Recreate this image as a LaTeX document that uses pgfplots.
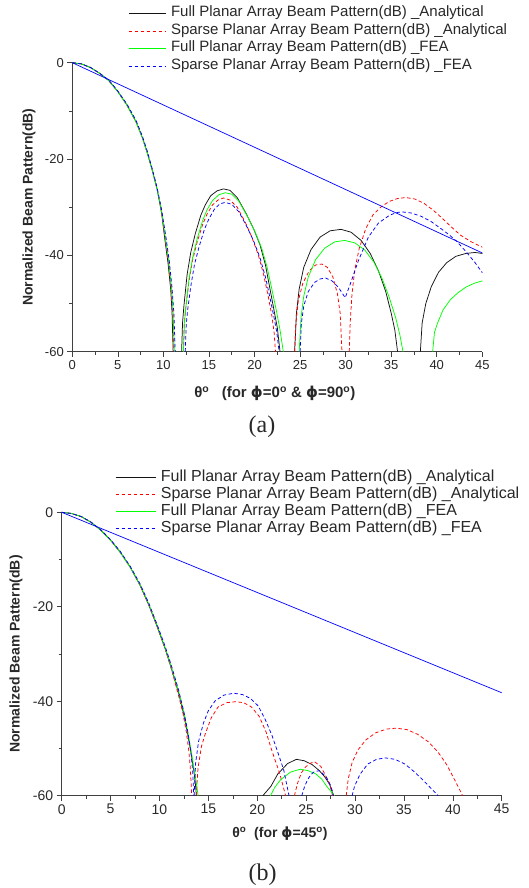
\documentclass[border=0pt]{standalone}
\usepackage{pgfplots}
\pgfplotsset{compat=1.18}
\usepackage{fontspec}
\setmainfont{Liberation Sans}
\newfontfamily\seriffont{Liberation Serif}
\newfontfamily\dvs{DejaVu Sans}
\definecolor{axgray}{RGB}{64,64,64}
\definecolor{txtgray}{RGB}{40,40,40}
\definecolor{cblack}{RGB}{20,20,20}
\definecolor{cred}{RGB}{255,0,0}
\definecolor{cgreen}{RGB}{0,255,0}
\definecolor{cblue}{RGB}{0,0,255}
\pgfplotsset{
  beamstyle/.style={
    scale only axis, xmin=0, xmax=45, ymin=-60, ymax=0,
    axis lines=left, axis line style={-, draw=axgray, line width=0.8pt},
    tick align=outside, tick style={draw=axgray, line width=0.6pt},
    major tick length=5pt, minor tick length=3pt,
    xtick={0,5,...,45}, minor xtick={2.5,7.5,...,42.5},
    ytick={-60,-40,-20,0}, minor ytick={-50,-30,-10},
    /pgf/number format/assume math mode=true,
    unbounded coords=jump,
    legend cell align=left,
    clip=false,
  },
  sblack/.style={draw=cblack, line width=0.75pt, no markers},
  sred/.style={draw=cred, line width=0.75pt, no markers, dash pattern=on 3.5pt off 2.5pt},
  sgreen/.style={draw=cgreen, line width=0.75pt, no markers},
  sblue/.style={draw=cblue, line width=0.75pt, no markers, dash pattern=on 3.5pt off 2.5pt},
  sline/.style={draw=cblue, line width=0.7pt, no markers},
}
\begin{document}
\begin{tikzpicture}
\path[use as bounding box] (0,0) rectangle (529pt,888pt);
% ---------------- panel (a)
\begin{axis}[beamstyle,
  at={(72.3pt,536.3pt)}, anchor=south west, width=410pt, height=289pt,
  ticklabel style={font=\fontsize{13}{15}\selectfont, text=txtgray},
  xlabel={θ\textsuperscript{o}\ \ \ (for {\dvs\bfseries ϕ}=0\textsuperscript{o} \& {\dvs\bfseries ϕ}=90\textsuperscript{o})},
  xlabel style={at={(axis description cs:0.494,-0.145)}, anchor=center, font=\fontsize{15}{17}\selectfont\bfseries, text=txtgray},
  ylabel={Normalized Beam Pattern(dB)},
  ylabel style={at={(axis description cs:-0.1056,0.5)}, anchor=center, font=\fontsize{14}{16}\selectfont\bfseries, text=txtgray},
  legend image code/.code={\draw[#1] (0pt,0pt) -- (37pt,0pt);},
  legend style={at={(axis description cs:0.136,1.201)}, anchor=north west, draw=none, fill=none, inner sep=0pt,
    font=\fontsize{15}{17}\selectfont, text=txtgray, row sep=0pt,
    nodes={inner sep=0pt, text height=12pt, text depth=5.5pt},
    /tikz/every odd column/.append style={column sep=5pt}},
]
\addplot[sblack] coordinates {
(0,0)(1,-0.25)(2,-1.0)(3,-2.2)(4,-3.7)(5,-6.0)(6,-8.8)(7,-12.3)(7.7,-15.6)(8.2,-18.5)(8.8,-22.5)(9.3,-26.2)(9.8,-31.2)(10.2,-37.3)(10.5,-41.5)(10.8,-47)(10.95,-52)(11.07,-60)
(11.5,nan)
(12.0,-60)(12.1,-54)(12.25,-50.5)(12.6,-44)(13.0,-39.4)(13.5,-35.5)(14.1,-31.7)(14.6,-29.5)(15.2,-27.6)(15.9,-26.6)(16.6,-26.2)(17.3,-26.5)(18.1,-28)(19.1,-31.4)(19.9,-34.5)(20.6,-37.8)(21.2,-42)(21.65,-46.5)(22.1,-51)(22.5,-55)(22.8,-60)
(23.5,nan)
(24.4,-60)(24.6,-52)(24.9,-47)(25.4,-42.5)(26.2,-38.8)(27.2,-36.2)(28.3,-34.9)(29.5,-34.6)(30.6,-35.2)(31.7,-36.9)(32.7,-39.6)(33.6,-43.2)(34.4,-47.5)(35,-52)(35.4,-55.5)(35.7,-60)
(37,nan)
(38.2,-60)(38.4,-54)(38.8,-50)(39.4,-46.5)(40.2,-43.5)(41.1,-41.5)(42.1,-40.2)(43.2,-39.6)(44.2,-39.4)(45,-39.6)
};
\addlegendentry{Full Planar Array Beam Pattern(dB) \_Analytical}
\addplot[sred] coordinates {
(0,0)(1,-0.25)(2,-1.0)(3,-2.2)(4,-3.7)(5,-6.0)(6,-8.8)(7,-12.3)(7.7,-15.6)(8.2,-18.5)(8.8,-22.5)(9.3,-26.2)(9.8,-31)(10.2,-36.8)(10.55,-41.5)(10.85,-47)(11.02,-52)(11.15,-60)
(11.7,nan)
(12.2,-60)(12.3,-54)(12.45,-51)(12.8,-45.5)(13.2,-41)(13.7,-37.3)(14.3,-33.6)(14.8,-31.4)(15.4,-29.5)(16,-28.5)(16.6,-28.1)(17.3,-28.5)(18.1,-30)(19,-33.2)(19.7,-36.2)(20.4,-39.8)(21,-44)(21.5,-48.5)(21.9,-52.5)(22.15,-56)(22.3,-60)
(23.3,nan)
(24.4,-60)(24.55,-54)(24.8,-49.5)(25.3,-45.8)(26,-43.2)(26.7,-42)(27.4,-41.8)(28,-42.5)(28.6,-44.5)(29.1,-48)(29.4,-52)(29.6,-60)
(30,nan)
(30.4,-60)(30.5,-54)(30.7,-48)(31.0,-43)(31.5,-38.5)(32.2,-34.5)(33.0,-31.6)(33.9,-29.9)(34.8,-28.8)(35.7,-28.2)(36.6,-28.0)(37.6,-28.3)(38.6,-29.2)(39.6,-30.6)(40.6,-32.3)(41.6,-34.1)(42.6,-35.8)(43.8,-37.2)(45,-38.3)
};
\addlegendentry{Sparse Planar Array Beam Pattern(dB) \_Analytical}
\addplot[sgreen] coordinates {
(0,0)(1,-0.25)(2,-1.0)(3,-2.2)(4,-3.7)(5,-6.0)(6,-8.8)(7,-12.3)(7.7,-15.6)(8.2,-18.5)(8.8,-22.5)(9.3,-26.2)(9.8,-30.8)(10.25,-36.8)(10.6,-41.5)(10.9,-47)(11.07,-52)(11.2,-60)
(11.7,nan)
(12.2,-60)(12.3,-54)(12.45,-51)(12.8,-45)(13.2,-40.5)(13.7,-36.6)(14.3,-32.8)(14.8,-30.5)(15.4,-28.6)(16.1,-27.4)(16.8,-27.0)(17.5,-27.3)(18.3,-28.8)(19.3,-32.2)(20.1,-35.3)(20.8,-38.6)(21.4,-42.6)(21.9,-47)(22.4,-51.5)(22.8,-55.5)(23.16,-60)
(24,nan)
(24.9,-60)(25.1,-53)(25.4,-48.5)(25.9,-44.5)(26.7,-40.9)(27.7,-38.5)(28.8,-37.2)(29.9,-36.9)(31,-37.4)(32.1,-38.9)(33.1,-41.4)(34,-44.8)(34.8,-48.8)(35.5,-53)(35.95,-56.5)(36.3,-60)
(38,nan)
(39.55,-60)(39.75,-56)(40.1,-54)(40.7,-51.3)(41.5,-49.2)(42.3,-47.8)(43.2,-46.6)(44.1,-45.8)(45,-45.3)
};
\addlegendentry{Full Planar Array Beam Pattern(dB) \_FEA}
\addplot[sblue] coordinates {
(0,0)(1,-0.25)(2,-1.0)(3,-2.2)(4,-3.6)(5,-5.9)(6,-8.6)(7,-12.0)(7.7,-15.3)(8.2,-18.2)(8.8,-22.2)(9.3,-25.9)(9.8,-30.5)(10.3,-36.5)(10.65,-41.3)(10.95,-46.8)(11.15,-52)(11.3,-60)
(11.8,nan)
(12.4,-60)(12.5,-54.5)(12.65,-51.5)(13,-46.5)(13.4,-42)(13.9,-38.3)(14.5,-34.6)(15,-32.4)(15.6,-30.4)(16.2,-29.3)(16.8,-29.0)(17.5,-29.4)(18.3,-31)(19.2,-34.2)(19.9,-37)(20.6,-40.5)(21.2,-44.5)(21.7,-48.8)(22.1,-52.5)(22.45,-56)(22.7,-60)
(23.8,nan)
(25.0,-60)(25.15,-54)(25.4,-50.5)(25.9,-47.5)(26.6,-45.6)(27.2,-44.9)(27.8,-44.7)(28.5,-45.3)(29.2,-46.6)(29.95,-48.8)(30.5,-46)(31.4,-41.1)(32.5,-36.2)(33.6,-33.3)(34.8,-31.7)(35.6,-31.1)(36.3,-31.0)(37.2,-31.2)(38.3,-31.9)(39.4,-33.0)(40.5,-34.5)(41.4,-35.8)(42.2,-37.1)(43.2,-39.2)(44.2,-41.5)(45,-43.6)
};
\addlegendentry{Sparse Planar Array Beam Pattern(dB) \_FEA}
\addplot[sline, forget plot] coordinates {(0,0)(45,-39.5)};
\end{axis}
% ---------------- panel (b)
\begin{axis}[beamstyle,
  at={(61.7pt,92.3pt)}, anchor=south west, width=440pt, height=283.4pt,
  ticklabel style={font=\fontsize{14}{16}\selectfont, text=txtgray},
  xlabel={θ\textsuperscript{o}\ \ (for {\dvs\bfseries ϕ}=45\textsuperscript{o})},
  xlabel style={at={(axis description cs:0.496,-0.135)}, anchor=center, font=\fontsize{14}{16}\selectfont\bfseries, text=txtgray},
  ylabel={Normalized Beam Pattern(dB)},
  ylabel style={at={(axis description cs:-0.1039,0.5)}, anchor=center, font=\fontsize{14}{16}\selectfont\bfseries, text=txtgray},
  legend image code/.code={\draw[#1] (0pt,0pt) -- (40pt,0pt);},
  legend style={at={(axis description cs:0.121,1.1535)}, anchor=north west, draw=none, fill=none, inner sep=0pt,
    font=\fontsize{16}{18}\selectfont, text=txtgray, row sep=0pt,
    nodes={inner sep=0pt, text height=12pt, text depth=5pt},
    /tikz/every odd column/.append style={column sep=5pt}},
]
\addplot[sblack] coordinates {
(0,0)(1,-0.25)(2,-0.9)(3,-2.1)(4,-3.8)(5,-5.9)(6,-8.5)(7,-11.6)(8,-15.4)(8.9,-19.6)(9.8,-24.4)(10.6,-29)(11.3,-33.6)(11.95,-38.2)(12.45,-42.5)(12.85,-46.6)(13.2,-50.6)(13.5,-54.5)(13.65,-57)(13.78,-60)
(17,nan)
(20.57,-60)(21.4,-58)(22.1,-55.4)(23.1,-53.2)(24,-52.3)(24.8,-52.6)(25.6,-53.4)(26.3,-54.6)(26.9,-56)(27.4,-57.6)(27.8,-60)
};
\addlegendentry{Full Planar Array Beam Pattern(dB) \_Analytical}
\addplot[sred] coordinates {
(0,0)(1,-0.25)(2,-0.9)(3,-2.1)(4,-3.8)(5,-5.9)(6,-8.5)(7,-11.6)(8,-15.4)(8.9,-19.6)(9.8,-24.4)(10.6,-29)(11.3,-33.8)(11.9,-38.4)(12.4,-42.5)(12.75,-46.6)(13.0,-50.5)(13.15,-54)(13.3,-60)
(13.5,nan)
(13.75,-60)(13.95,-54)(14.3,-49.5)(14.7,-46.8)(15.3,-43.5)(16.0,-41.2)(16.9,-40.3)(17.8,-40.1)(18.6,-40.3)(19.4,-41.2)(20.2,-43.2)(20.9,-46.5)(21.5,-50.5)(22.3,-55.3)(22.9,-60)
(23.3,nan)
(23.8,-60)(24.1,-57.5)(24.5,-55.2)(24.9,-54)(25.35,-53.2)(25.85,-52.8)(26.5,-53.8)(27.2,-56.6)(27.5,-58.3)(27.7,-60)
(28.3,nan)
(29.1,-60)(29.3,-56.5)(29.7,-53)(30.3,-50.3)(31.1,-48.2)(32.1,-46.7)(33.2,-45.9)(34.2,-45.7)(35.3,-46)(36.4,-47)(37.5,-48.6)(38.5,-50.8)(39.4,-53.5)(40.1,-56.3)(40.6,-58.3)(41.0,-60)
};
\addlegendentry{Sparse Planar Array Beam Pattern(dB) \_Analytical}
\addplot[sgreen] coordinates {
(0,0)(1,-0.25)(2,-0.9)(3,-2.1)(4,-3.8)(5,-5.9)(6,-8.5)(7,-11.6)(8,-15.3)(8.9,-19.4)(9.8,-24.2)(10.6,-28.8)(11.3,-33.4)(11.95,-37.9)(12.5,-42.4)(12.9,-46.6)(13.25,-50.6)(13.55,-54.5)(13.75,-57)(13.95,-60)
(17,nan)
(21.35,-60)(21.8,-58.2)(22.4,-56.6)(23.4,-55)(24.4,-54.4)(25.2,-54.7)(26,-55.4)(26.6,-56.5)(27.1,-58)(27.5,-59)(27.9,-60)
};
\addlegendentry{Full Planar Array Beam Pattern(dB) \_FEA}
\addplot[sblue] coordinates {
(0,0)(1,-0.25)(2,-0.9)(3,-2.1)(4,-3.7)(5,-5.8)(6,-8.3)(7,-11.4)(8,-15.1)(8.9,-19.2)(9.8,-24.0)(10.6,-28.5)(11.3,-33)(11.95,-37.6)(12.5,-42.3)(12.9,-46.5)(13.2,-50.5)(13.4,-55)(13.5,-60)
(13.52,nan)
(13.55,-60)(13.7,-53)(14.0,-48.5)(14.5,-44.6)(15.0,-42)(15.7,-39.9)(16.6,-38.7)(17.6,-38.3)(18.5,-38.6)(19.3,-39.4)(20.1,-41)(20.8,-43.8)(21.5,-47.2)(22.1,-50.8)(22.7,-54.5)(23.25,-60)
(23.9,nan)
(24.55,-60)(24.85,-58)(25.15,-56.6)(25.5,-55.5)(25.85,-54.9)(26.36,-54.7)(27.05,-56)(27.55,-58)(27.8,-60)
(28.7,nan)
(29.7,-60)(29.95,-58)(30.5,-55.5)(31.3,-53.3)(32.2,-52.3)(33.1,-52.0)(34.1,-52.3)(35.1,-53.3)(36.1,-55)(37,-56.8)(37.8,-58.5)(38.5,-60)
};
\addlegendentry{Sparse Planar Array Beam Pattern(dB) \_FEA}
\addplot[sline, forget plot] coordinates {(0,0)(45,-38.2)};
\end{axis}
\node[font=\seriffont\fontsize{24}{28}\selectfont, text=txtgray] at (262pt,461.3pt) {(a)};
\node[font=\seriffont\fontsize{24}{28}\selectfont, text=txtgray] at (262.5pt,13pt) {(b)};
\end{tikzpicture}
\end{document}
